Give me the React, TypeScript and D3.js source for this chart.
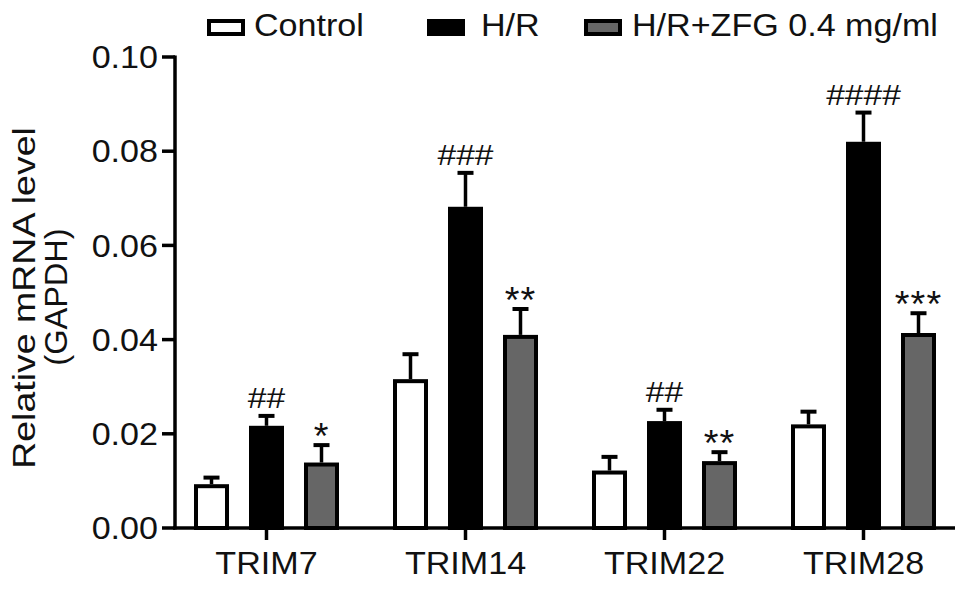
import React from "react";
import * as d3 from "d3";

const categories = ["TRIM7", "TRIM14", "TRIM22", "TRIM28"];
const seriesNames = ["Control", "H/R", "H/R+ZFG 0.4 mg/ml"];
const controlValues = [0.0093, 0.0316, 0.0122, 0.022];
const controlErrors = [0.0014, 0.0053, 0.0029, 0.0027];
const hrValues = [0.0217, 0.0682, 0.0227, 0.082];
const hrErrors = [0.0021, 0.0072, 0.0024, 0.0062];
const zfgValues = [0.0139, 0.041, 0.0142, 0.0414];
const zfgErrors = [0.0037, 0.0055, 0.0019, 0.0042];
const hrMarks = ["##", "###", "##", "####"];
const zfgMarks = ["*", "**", "**", "***"];
const yTicks = [0, 0.02, 0.04, 0.06, 0.08, 0.1];

const fills = ["#ffffff", "#000000", "#666666"];
const FONT = "'Liberation Sans', Arial, Helvetica, sans-serif";
const SX = 1.1;

function T({ x, y, anchor = "start", size = 31, rot = 0, sx = SX, dy, ls, children }: any) {
  return (
    <text
      transform={`translate(${x},${y}) rotate(${rot}) scale(${sx},1)`}
      textAnchor={anchor}
      fontSize={size}
      dy={dy}
      letterSpacing={ls}
      fill="#111"
    >
      {children}
    </text>
  );
}

export default function App() {
  const W = 969, H = 589;
  const y = d3.scaleLinear().domain([0, 0.1]).range([528, 57]);
  const x = d3.scaleBand().domain(categories).range([167, 963]).padding(0);
  const xs = d3.scaleBand().domain(seriesNames).range([-82.5, 82.5]).padding(0);
  const values = [controlValues, hrValues, zfgValues];
  const errors = [controlErrors, hrErrors, zfgErrors];
  const barW = 31;
  const fmt = d3.format(".2f");

  const legendX = [207, 427, 584];
  const legendTextX = [254, 481, 632];

  return (
    <svg width={W} height={H} style={{ position: "absolute", left: 0, top: 0, background: "#fff" }} fontFamily={FONT}>
      <rect x={0} y={0} width={W} height={H} fill="#fff" />
      {/* Legend */}
      {seriesNames.map((s, i) => (
        <g key={s}>
          <rect x={legendX[i] + 2} y={21} width={34} height={13} fill={fills[i]} stroke="#000" strokeWidth={4} />
          <T x={legendTextX[i]} y={36}>{s}</T>
        </g>
      ))}
      {/* Y axis */}
      <line x1={175} x2={175} y1={y(0.1) - 1.5} y2={y(0) + 1.5} stroke="#000" strokeWidth={3.5} />
      {yTicks.map((t) => (
        <g key={t}>
          <line x1={162} x2={175} y1={y(t)} y2={y(t)} stroke="#000" strokeWidth={3.5} />
          <T x={158} y={y(t)} dy="0.36em" anchor="end">{fmt(t)}</T>
        </g>
      ))}
      {/* Y title */}
      <T x={35} y={298} rot={-90} anchor="middle" sx={1.21}>Relative mRNA level</T>
      <T x={67} y={297} rot={-90} anchor="middle" sx={1.05}>(GAPDH)</T>
      {/* Bars */}
      {categories.map((c, ci) => (
        <g key={c}>
          {seriesNames.map((s, si) => {
            const cx = (x(c) as number) + x.bandwidth() / 2 + (xs(s) as number) + xs.bandwidth() / 2;
            const v = values[si][ci];
            const e = errors[si][ci];
            const top = y(v);
            const capY = y(v + e);
            return (
              <g key={s}>
                <line x1={cx} x2={cx} y1={top} y2={capY} stroke="#000" strokeWidth={3.5} />
                <line x1={cx - 8} x2={cx + 8} y1={capY} y2={capY} stroke="#000" strokeWidth={4} />
                <rect x={cx - barW / 2} y={top + 2} width={barW} height={y(0) - top - 2} fill={fills[si]} stroke="#000" strokeWidth={4} />
                {si === 1 && (
                  <T x={cx} y={capY - 8} anchor="middle" size={30} sx={1.12}>{hrMarks[ci]}</T>
                )}
                {si === 2 && (
                  <T x={cx} y={capY + 4} anchor="middle" size={36} ls={1} sx={1.05}>{zfgMarks[ci]}</T>
                )}
              </g>
            );
          })}
        </g>
      ))}
      {/* X axis */}
      <line x1={173} x2={955} y1={y(0)} y2={y(0)} stroke="#000" strokeWidth={3.5} />
      {categories.map((c) => {
        const cx = (x(c) as number) + x.bandwidth() / 2;
        return (
          <g key={c}>
            <line x1={cx} x2={cx} y1={y(0)} y2={y(0) + 12} stroke="#000" strokeWidth={3.5} />
            <T x={cx} y={574} anchor="middle">{c}</T>
          </g>
        );
      })}
    </svg>
  );
}
